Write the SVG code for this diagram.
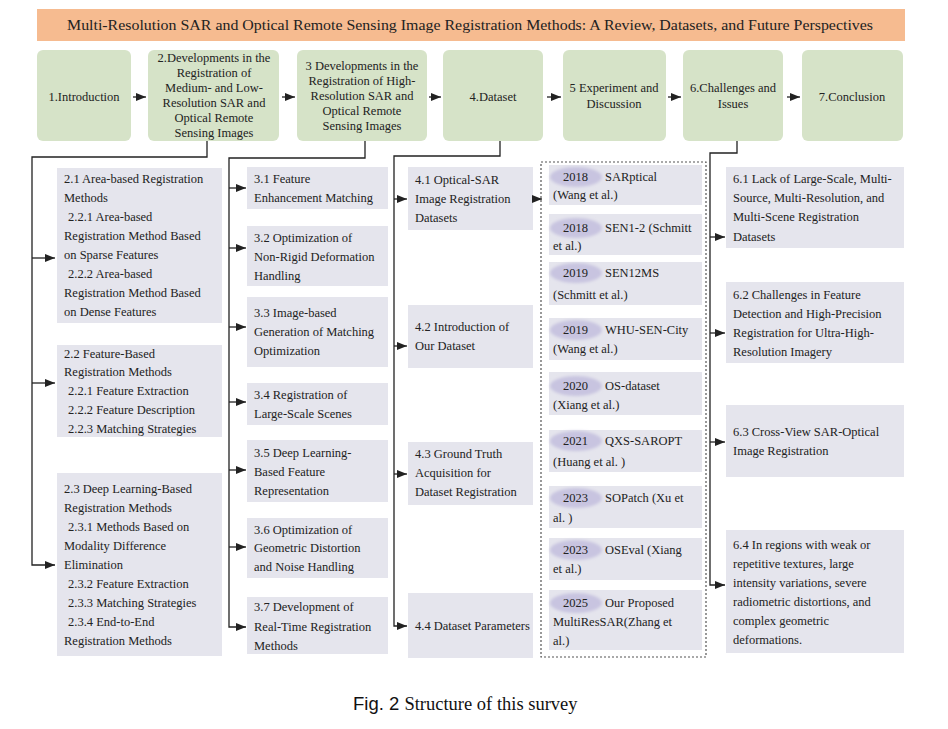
<svg xmlns="http://www.w3.org/2000/svg" width="948" height="729" viewBox="0 0 948 729">
<style>
.t{font-family:"Liberation Serif","Times New Roman",serif;font-size:12.5px;fill:#222}
.tc{font-family:"Liberation Serif","Times New Roman",serif;font-size:12.5px;fill:#222;text-anchor:middle}
.top{fill:#d6e3c8}
.sub{fill:#e5e5ed}
.ln{fill:none;stroke:#222;stroke-width:1.3}
.pill{fill:#c8c4e0}
</style>
<defs>
<marker id="ah" markerUnits="userSpaceOnUse" markerWidth="10" markerHeight="8" refX="10" refY="4" orient="auto">
<path d="M0,0 L10,4 L0,8 z" fill="#222"/>
</marker>
<filter id="blur" x="-20%" y="-40%" width="140%" height="180%"><feGaussianBlur stdDeviation="1.5"/></filter>
</defs>
<rect width="948" height="729" fill="#ffffff"/>

<g id="title">
<rect x="37" y="9" width="868" height="32" fill="#f6bb90"/>
<text x="470" y="30" class="tc" style="font-size:15px" textLength="806" lengthAdjust="spacingAndGlyphs">Multi-Resolution SAR and Optical Remote Sensing Image Registration Methods: A Review, Datasets, and Future Perspectives</text>
</g>

<g id="s1"><rect class="top" x="37" y="50" width="94" height="91" rx="6"/><text class="tc" x="84" y="101">1.Introduction</text></g>
<g id="s2"><rect class="top" x="148" y="50" width="131" height="91" rx="6"/>
<text class="tc" x="214" y="62">2.Developments in the</text>
<text class="tc" x="214" y="77">Registration of</text>
<text class="tc" x="214" y="92">Medium- and Low-</text>
<text class="tc" x="214" y="107">Resolution SAR and</text>
<text class="tc" x="214" y="122">Optical Remote</text>
<text class="tc" x="214" y="137">Sensing Images</text></g>
<g id="s3"><rect class="top" x="297" y="50" width="130" height="91" rx="6"/>
<text class="tc" x="362" y="70">3 Developments in the</text>
<text class="tc" x="362" y="85">Registration of High-</text>
<text class="tc" x="362" y="100">Resolution SAR and</text>
<text class="tc" x="362" y="115">Optical Remote</text>
<text class="tc" x="362" y="130">Sensing Images</text></g>
<g id="s4"><rect class="top" x="443" y="50" width="100" height="91" rx="6"/><text class="tc" x="493" y="101">4.Dataset</text></g>
<g id="s5"><rect class="top" x="563" y="50" width="103" height="91" rx="6"/>
<text class="tc" x="614" y="92">5 Experiment and</text><text class="tc" x="614" y="108">Discussion</text></g>
<g id="s6"><rect class="top" x="683" y="50" width="100" height="91" rx="6"/>
<text class="tc" x="733" y="92">6.Challenges and</text><text class="tc" x="733" y="108">Issues</text></g>
<g id="s7"><rect class="top" x="802" y="50" width="101" height="91" rx="6"/><text class="tc" x="852" y="101">7.Conclusion</text></g>

<g id="n21"><rect class="sub" x="57" y="168" width="165" height="155"/>
<text class="t" x="64" y="183">2.1  Area-based Registration</text>
<text class="t" x="64" y="202">Methods</text>
<text class="t" x="68" y="221">2.2.1  Area-based</text>
<text class="t" x="64" y="240">Registration Method Based</text>
<text class="t" x="64" y="259">on Sparse Features</text>
<text class="t" x="68" y="278">2.2.2  Area-based</text>
<text class="t" x="64" y="297">Registration Method Based</text>
<text class="t" x="64" y="316">on Dense Features</text></g>
<g id="n22"><rect class="sub" x="57" y="345" width="165" height="92"/>
<text class="t" x="64" y="358">2.2 Feature-Based</text>
<text class="t" x="64" y="376">Registration Methods</text>
<text class="t" x="68" y="395">2.2.1 Feature Extraction</text>
<text class="t" x="68" y="414">2.2.2 Feature Description</text>
<text class="t" x="68" y="433">2.2.3 Matching Strategies</text></g>
<g id="n23"><rect class="sub" x="57" y="473" width="165" height="183"/>
<text class="t" x="64" y="493">2.3 Deep Learning-Based</text>
<text class="t" x="64" y="512">Registration Methods</text>
<text class="t" x="68" y="531">2.3.1 Methods Based on</text>
<text class="t" x="64" y="550">Modality Difference</text>
<text class="t" x="64" y="569">Elimination</text>
<text class="t" x="68" y="588">2.3.2 Feature Extraction</text>
<text class="t" x="68" y="607">2.3.3 Matching Strategies</text>
<text class="t" x="68" y="626">2.3.4 End-to-End</text>
<text class="t" x="64" y="645">Registration Methods</text></g>

<g id="n31"><rect class="sub" x="247" y="167" width="141" height="42"/>
<text class="t" x="254" y="183">3.1 Feature</text><text class="t" x="254" y="202">Enhancement Matching</text></g>
<g id="n32"><rect class="sub" x="247" y="226" width="141" height="60"/>
<text class="t" x="254" y="242">3.2 Optimization of</text><text class="t" x="254" y="261">Non-Rigid Deformation</text><text class="t" x="254" y="280">Handling</text></g>
<g id="n33"><rect class="sub" x="247" y="297" width="141" height="70"/>
<text class="t" x="254" y="317">3.3 Image-based</text><text class="t" x="254" y="336">Generation of Matching</text><text class="t" x="254" y="355">Optimization</text></g>
<g id="n34"><rect class="sub" x="247" y="383" width="141" height="42"/>
<text class="t" x="254" y="399">3.4  Registration of</text><text class="t" x="254" y="418">Large-Scale Scenes</text></g>
<g id="n35"><rect class="sub" x="247" y="440" width="141" height="62"/>
<text class="t" x="254" y="457">3.5 Deep Learning-</text><text class="t" x="254" y="476">Based Feature</text><text class="t" x="254" y="495">Representation</text></g>
<g id="n36"><rect class="sub" x="247" y="518" width="141" height="60"/>
<text class="t" x="254" y="534">3.6 Optimization of</text><text class="t" x="254" y="552">Geometric Distortion</text><text class="t" x="254" y="571">and Noise Handling</text></g>
<g id="n37"><rect class="sub" x="247" y="597" width="141" height="57"/>
<text class="t" x="254" y="611">3.7 Development of</text><text class="t" x="254" y="631">Real-Time Registration</text><text class="t" x="254" y="650">Methods</text></g>

<g id="n41"><rect class="sub" x="408" y="167" width="125" height="63"/>
<text class="t" x="415" y="184">4.1 Optical-SAR</text><text class="t" x="415" y="203">Image Registration</text><text class="t" x="415" y="222">Datasets</text></g>
<g id="n42"><rect class="sub" x="408" y="305" width="125" height="63"/>
<text class="t" x="415" y="331">4.2 Introduction of</text><text class="t" x="415" y="350">Our Dataset</text></g>
<g id="n43"><rect class="sub" x="408" y="442" width="125" height="63"/>
<text class="t" x="415" y="458">4.3 Ground Truth</text><text class="t" x="415" y="477">Acquisition for</text><text class="t" x="415" y="496">Dataset Registration</text></g>
<g id="n44"><rect class="sub" x="408" y="593" width="125" height="65"/>
<text class="t" x="415" y="630">4.4 Dataset Parameters</text></g>

<g id="datasets">
<rect x="541" y="162" width="165" height="495" fill="none" stroke="#555" stroke-width="1.2" stroke-dasharray="2,2"/>
<g id="d1"><rect class="sub" x="549" y="165" width="153" height="40"/><ellipse class="pill" cx="576" cy="177" rx="26" ry="10" filter="url(#blur)"/>
<text class="t" x="563" y="181">2018</text><text class="t" x="605" y="181">SARptical</text><text class="t" x="553" y="199">(Wang et al.)</text></g>
<g id="d2"><rect class="sub" x="549" y="214" width="153" height="41"/><ellipse class="pill" cx="576" cy="228" rx="26" ry="10" filter="url(#blur)"/>
<text class="t" x="563" y="232">2018</text><text class="t" x="605" y="232">SEN1-2 (Schmitt</text><text class="t" x="553" y="250">et al.)</text></g>
<g id="d3"><rect class="sub" x="549" y="262" width="153" height="43"/><ellipse class="pill" cx="576" cy="273" rx="26" ry="10" filter="url(#blur)"/>
<text class="t" x="563" y="277">2019</text><text class="t" x="605" y="277">SEN12MS</text><text class="t" x="553" y="299">(Schmitt et al.)</text></g>
<g id="d4"><rect class="sub" x="549" y="318" width="153" height="42"/><ellipse class="pill" cx="576" cy="330" rx="26" ry="10" filter="url(#blur)"/>
<text class="t" x="563" y="334">2019</text><text class="t" x="605" y="334">WHU-SEN-City</text><text class="t" x="553" y="353">(Wang et al.)</text></g>
<g id="d5"><rect class="sub" x="549" y="372" width="153" height="43"/><ellipse class="pill" cx="576" cy="386" rx="26" ry="10" filter="url(#blur)"/>
<text class="t" x="563" y="390">2020</text><text class="t" x="605" y="390">OS-dataset</text><text class="t" x="553" y="409">(Xiang et al.)</text></g>
<g id="d6"><rect class="sub" x="549" y="430" width="153" height="42"/><ellipse class="pill" cx="576" cy="441" rx="26" ry="10" filter="url(#blur)"/>
<text class="t" x="563" y="445">2021</text><text class="t" x="605" y="445">QXS-SAROPT</text><text class="t" x="553" y="466">(Huang et al. )</text></g>
<g id="d7"><rect class="sub" x="549" y="486" width="153" height="42"/><ellipse class="pill" cx="576" cy="498" rx="26" ry="10" filter="url(#blur)"/>
<text class="t" x="563" y="502">2023</text><text class="t" x="605" y="502">SOPatch (Xu et</text><text class="t" x="553" y="522">al. )</text></g>
<g id="d8"><rect class="sub" x="549" y="538" width="153" height="42"/><ellipse class="pill" cx="576" cy="550" rx="26" ry="10" filter="url(#blur)"/>
<text class="t" x="563" y="554">2023</text><text class="t" x="605" y="554">OSEval (Xiang</text><text class="t" x="553" y="573">et al.)</text></g>
<g id="d9"><rect class="sub" x="549" y="590" width="153" height="60"/><ellipse class="pill" cx="576" cy="603" rx="26" ry="10" filter="url(#blur)"/>
<text class="t" x="563" y="607">2025</text><text class="t" x="605" y="607">Our Proposed</text><text class="t" x="553" y="626">MultiResSAR(Zhang et</text><text class="t" x="553" y="645">al.)</text></g>
</g>

<g id="n61"><rect class="sub" x="726" y="167" width="178" height="81"/>
<text class="t" x="733" y="183">6.1 Lack of Large-Scale, Multi-</text><text class="t" x="733" y="202">Source, Multi-Resolution, and</text><text class="t" x="733" y="221">Multi-Scene Registration</text><text class="t" x="733" y="241">Datasets</text></g>
<g id="n62"><rect class="sub" x="726" y="282" width="178" height="81"/>
<text class="t" x="733" y="299">6.2 Challenges in Feature</text><text class="t" x="733" y="318">Detection and High-Precision</text><text class="t" x="733" y="337">Registration for Ultra-High-</text><text class="t" x="733" y="356">Resolution Imagery</text></g>
<g id="n63"><rect class="sub" x="726" y="405" width="178" height="72"/>
<text class="t" x="733" y="436">6.3 Cross-View SAR-Optical</text><text class="t" x="733" y="455">Image Registration</text></g>
<g id="n64"><rect class="sub" x="726" y="530" width="178" height="123"/>
<text class="t" x="733" y="549">6.4 In regions with weak or</text><text class="t" x="733" y="568">repetitive textures, large</text><text class="t" x="733" y="587">intensity variations, severe</text><text class="t" x="733" y="606">radiometric distortions, and</text><text class="t" x="733" y="625">complex geometric</text><text class="t" x="733" y="644">deformations.</text></g>

<g id="connectors">
<line class="ln" x1="133" y1="97" x2="146" y2="97" marker-end="url(#ah)"/>
<line class="ln" x1="282" y1="97" x2="295" y2="97" marker-end="url(#ah)"/>
<line class="ln" x1="429" y1="97" x2="441" y2="97" marker-end="url(#ah)"/>
<line class="ln" x1="547" y1="97" x2="561" y2="97" marker-end="url(#ah)"/>
<line class="ln" x1="668" y1="97" x2="681" y2="97" marker-end="url(#ah)"/>
<line class="ln" x1="787" y1="97" x2="800" y2="97" marker-end="url(#ah)"/>

<path class="ln" d="M207,141 V157 H32 V565 H55" marker-end="url(#ah)"/>
<line class="ln" x1="32" y1="258" x2="55" y2="258" marker-end="url(#ah)"/>
<line class="ln" x1="32" y1="383" x2="55" y2="383" marker-end="url(#ah)"/>

<path class="ln" d="M365,141 V158 H229 V627 H246" marker-end="url(#ah)"/>
<line class="ln" x1="229" y1="188" x2="246" y2="188" marker-end="url(#ah)"/>
<line class="ln" x1="229" y1="248" x2="246" y2="248" marker-end="url(#ah)"/>
<line class="ln" x1="229" y1="327" x2="246" y2="327" marker-end="url(#ah)"/>
<line class="ln" x1="229" y1="402" x2="246" y2="402" marker-end="url(#ah)"/>
<line class="ln" x1="229" y1="470" x2="246" y2="470" marker-end="url(#ah)"/>
<line class="ln" x1="229" y1="547" x2="246" y2="547" marker-end="url(#ah)"/>

<path class="ln" d="M500,141 V156 H394 V626 H407" marker-end="url(#ah)"/>
<line class="ln" x1="394" y1="199" x2="407" y2="199" marker-end="url(#ah)"/>
<line class="ln" x1="394" y1="346" x2="407" y2="346" marker-end="url(#ah)"/>
<line class="ln" x1="394" y1="474" x2="407" y2="474" marker-end="url(#ah)"/>
<line class="ln" x1="533" y1="199" x2="542" y2="199" marker-end="url(#ah)"/>

<path class="ln" d="M737,141 V153 H710 V585 H725" marker-end="url(#ah)"/>
<line class="ln" x1="710" y1="237" x2="725" y2="237" marker-end="url(#ah)"/>
<line class="ln" x1="710" y1="333" x2="725" y2="333" marker-end="url(#ah)"/>
<line class="ln" x1="710" y1="442" x2="725" y2="442" marker-end="url(#ah)"/>
</g>

<g id="caption">
<text x="353" y="710" style="font-family:'Liberation Sans',Arial,sans-serif;font-size:18.5px;fill:#111">Fig. 2 <tspan style="font-family:'Liberation Serif','Times New Roman',serif">Structure of this survey</tspan></text>
</g>
</svg>
